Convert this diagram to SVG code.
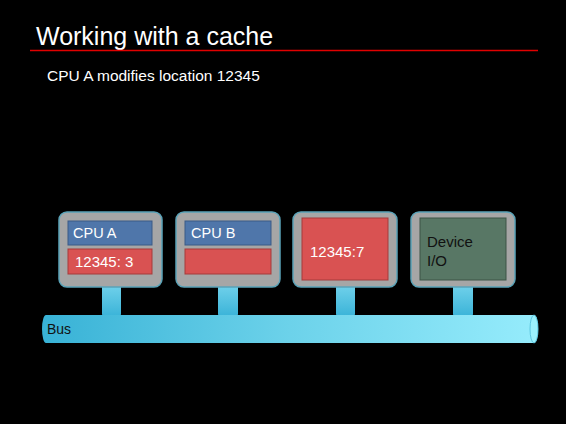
<svg xmlns="http://www.w3.org/2000/svg" width="566" height="424" viewBox="0 0 566 424">
<defs>
<linearGradient id="busg" x1="0" y1="0" x2="1" y2="0">
<stop offset="0" stop-color="#38b2d6"/>
<stop offset="0.5" stop-color="#6cd2ea"/>
<stop offset="1" stop-color="#96ecfc"/>
</linearGradient>
<linearGradient id="stemg" x1="0" y1="0" x2="0" y2="1">
<stop offset="0" stop-color="#6fd0ea"/>
<stop offset="1" stop-color="#34b0d6"/>
</linearGradient>
<style>
text{font-family:"Liberation Sans",Arial,sans-serif}
.frame{fill:#a6a6a6;stroke:#5aa3b8;stroke-width:1.5}
.blue{fill:#4f76aa;stroke:#3a5a86;stroke-width:1}
.red{fill:#d95252;stroke:#a53a3a;stroke-width:1}
.green{fill:#587765;stroke:#3d5547;stroke-width:1}
.stem{fill:url(#stemg)}
.w{fill:#ffffff;font-size:14.5px}
.k{fill:#111111;font-size:15px}
</style>
</defs>
<rect width="566" height="424" fill="#000"/>
<text x="36" y="45" fill="#ffffff" style="font-size:25px">Working with a cache</text>
<line x1="30" y1="50.5" x2="538" y2="50.5" stroke="#e00000" stroke-width="1.5"/>
<text x="47" y="81" fill="#ffffff" style="font-size:15.5px">CPU A modifies location 12345</text>
<g id="connectors">
<path class="stem" d="M102 286 H121 V314 Q121 320 111.5 320 Q102 320 102 314 Z"/>
<path class="stem" d="M218 286 H238 V314 Q238 320 228 320 Q218 320 218 314 Z"/>
<path class="stem" d="M336 286 H355 V314 Q355 320 345.5 320 Q336 320 336 314 Z"/>
<path class="stem" d="M453 286 H473 V314 Q473 320 463 320 Q453 320 453 314 Z"/>
</g>
<g id="bus">
<path d="M46 315 H534 A4 14 0 0 1 534 343 H46 A4 14 0 0 1 46 315 Z" fill="url(#busg)"/>
<ellipse cx="534" cy="329" rx="4" ry="14" fill="#9af0fc" stroke="#5cc6e0" stroke-width="1"/>
<text x="47" y="334" class="k" style="font-size:14px">Bus</text>
</g>
<g id="cpuA">
<rect class="frame" x="59" y="212" width="103" height="75" rx="8"/>
<rect class="blue" x="68" y="221" width="84" height="24"/>
<text class="w" x="73" y="238">CPU A</text>
<rect class="red" x="68" y="249" width="84" height="25"/>
<text class="w" x="75" y="267" style="font-size:15px">12345: 3</text>
</g>
<g id="cpuB">
<rect class="frame" x="176" y="212" width="104" height="75" rx="8"/>
<rect class="blue" x="185" y="221" width="86" height="24"/>
<text class="w" x="191" y="238">CPU B</text>
<rect class="red" x="185" y="249" width="86" height="25"/>
</g>
<g id="memory">
<rect class="frame" x="293" y="212" width="104" height="75" rx="8"/>
<rect class="red" x="302" y="218" width="86" height="62"/>
<text class="w" x="310" y="257" style="font-size:15px">12345:7</text>
</g>
<g id="device">
<rect class="frame" x="411" y="212" width="104" height="75" rx="8"/>
<rect class="green" x="420" y="218" width="86" height="62"/>
<text class="k" x="427" y="247">Device</text>
<text class="k" x="427" y="266">I/O</text>
</g>
</svg>
